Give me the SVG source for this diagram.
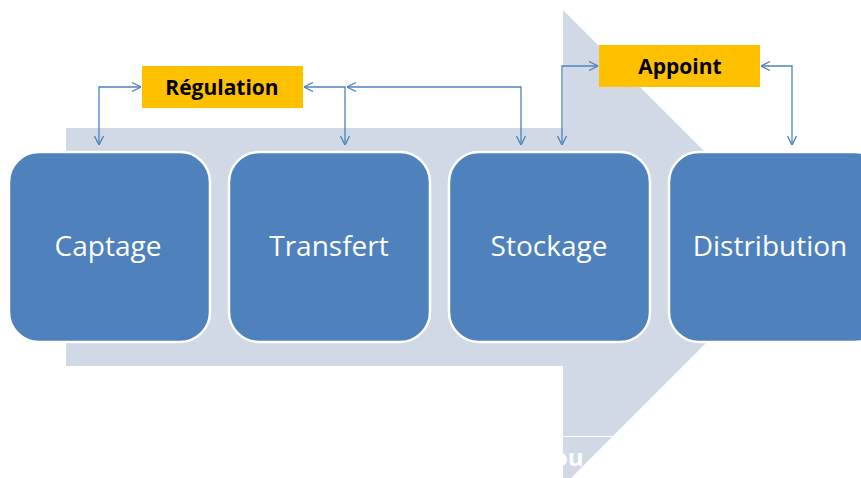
<svg xmlns="http://www.w3.org/2000/svg" width="861" height="478" viewBox="0 0 861 478">
<style>
.box{fill:#4F81BD;stroke:#FFFFFF;stroke-width:2.5}
.boxtxt{font-family:"Open Sans","Liberation Sans",sans-serif;font-size:28px;fill:#FFFFFF;text-anchor:middle}
.lab{fill:#FFC000}
.labtxt{font-family:"Open Sans","Liberation Sans",sans-serif;font-size:21px;font-weight:bold;fill:#000000;text-anchor:middle}
.conn{fill:none;stroke:#4F81BD;stroke-width:1.3;marker-start:url(#ah);marker-end:url(#ah)}
</style>
<defs>
<marker id="ah" viewBox="0 0 10 10" refX="10" refY="5" markerWidth="10" markerHeight="10" markerUnits="userSpaceOnUse" orient="auto-start-reverse">
<path d="M1,0.5 L10,5 L1,9.5" fill="none" stroke="#4F81BD" stroke-width="1.3"/>
</marker>
</defs>
<rect width="861" height="478" fill="#FFFFFF"/>
<g id="background-arrow">
<polygon points="66,128 563,128 563,10 801,248 563,486 563,366 66,366" fill="#D1D8E6"/>
<line x1="563" y1="436.5" x2="617" y2="436.5" stroke="#FFFFFF" stroke-width="1"/>
<text x="553" y="466" font-family="Open Sans, Liberation Sans, sans-serif" font-size="24" font-weight="bold" fill="#FFFFFF">ou</text>
</g>
<g id="connectors">
<path class="conn" d="M99,145 L99,87 L141,87"/>
<path class="conn" d="M345,145 L345,87 L304,87"/>
<path class="conn" d="M521,145 L521,87 L347,87"/>
<path class="conn" d="M562,145 L562,66 L598,66"/>
<path class="conn" d="M792,145 L792,66 L761,66"/>
</g>
<g id="captage">
<rect class="box" x="9" y="152" width="201" height="190" rx="30"/>
<text class="boxtxt" x="108" y="256">Captage</text>
</g>
<g id="transfert">
<rect class="box" x="229" y="152" width="201" height="190" rx="30"/>
<text class="boxtxt" x="329" y="256">Transfert</text>
</g>
<g id="stockage">
<rect class="box" x="449" y="152" width="201" height="190" rx="30"/>
<text class="boxtxt" x="549" y="256">Stockage</text>
</g>
<g id="distribution">
<rect class="box" x="669" y="152" width="215" height="190" rx="30"/>
<text class="boxtxt" x="770" y="256">Distribution</text>
</g>
<g id="regulation">
<rect class="lab" x="142" y="66" width="161" height="42"/>
<text class="labtxt" x="222" y="95">Régulation</text>
</g>
<g id="appoint">
<rect class="lab" x="599" y="45" width="161" height="42"/>
<text class="labtxt" x="680" y="74">Appoint</text>
</g>
</svg>
